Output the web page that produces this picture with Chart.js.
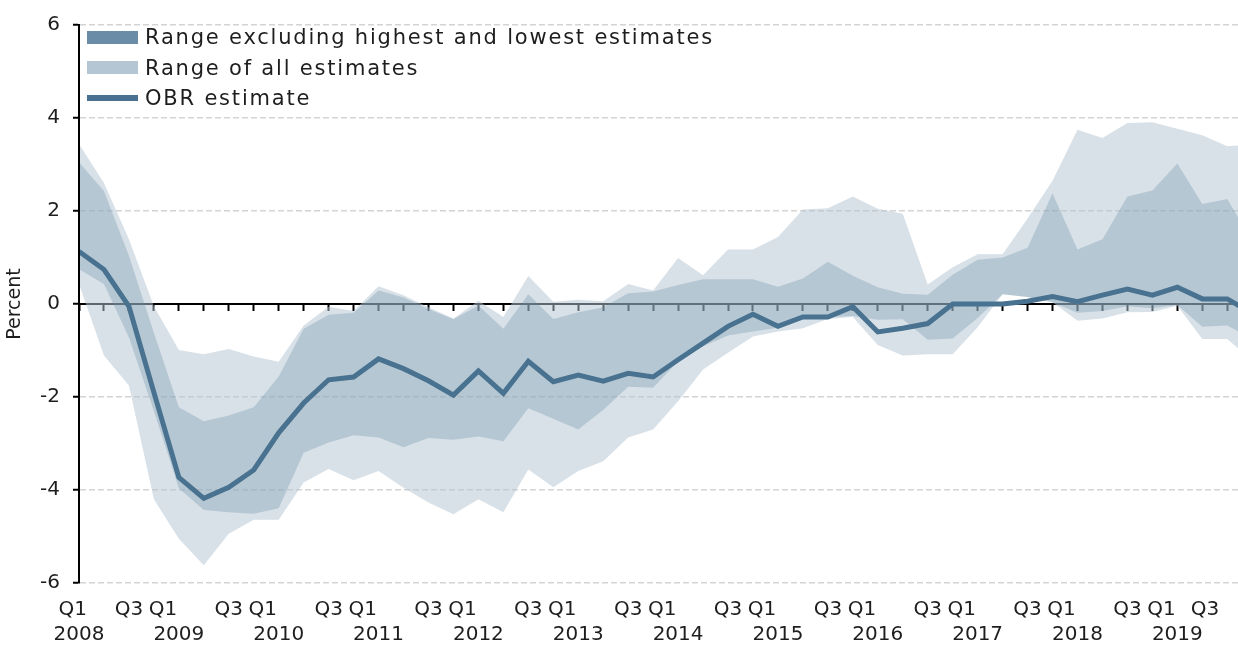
<!DOCTYPE html>
<html>
<head>
<meta charset="utf-8">
<script src="https://cdn.jsdelivr.net/npm/chart.js@4.4.1/dist/chart.umd.min.js"></script>
<style>
  html, body { margin: 0; padding: 0; background: #fff; overflow: hidden; }
  #wrap { position: relative; width: 1238px; height: 646px; }
  #legend { position: absolute; left: 87px; top: 22px; font-family: 'DejaVu Sans', sans-serif;
            font-size: 21px; color: #1e1e1e; letter-spacing: 1.8px; }
  .row { display: flex; align-items: center; height: 30.5px; white-space: nowrap; }
  .sw { width: 51px; height: 13px; margin-right: 7px; flex: none; }
  .ln { width: 51px; height: 6px; margin-right: 7px; flex: none; }
</style>
</head>
<body>
<div id="wrap">
  <canvas id="chart"></canvas>
  <div id="legend">
    <div class="row"><span class="sw" style="background:#6a8ca6"></span>Range excluding highest and lowest estimates</div>
    <div class="row"><span class="sw" style="background:#b4c6d3"></span>Range of all estimates</div>
    <div class="row"><span class="ln" style="background:#48728f"></span>OBR estimate</div>
  </div>
</div>
<script>
// Q1 2008 .. Q4 2019
const years = ['2008', '2009', '2010', '2011', '2012', '2013', '2014', '2015', '2016', '2017', '2018', '2019'];
const quarters = ['Q1', 'Q2', 'Q3', 'Q4'];
const yTicks = [-6, -4, -2, 0, 2, 4, 6];

const obr = [1.13, 0.74, -0.05, -1.9, -3.73, -4.18, -3.94, -3.57, -2.77, -2.13, -1.63, -1.57,
  -1.18, -1.39, -1.65, -1.96, -1.44, -1.92, -1.23, -1.67, -1.53, -1.66, -1.49, -1.57,
  -1.2, -0.84, -0.48, -0.22, -0.48, -0.28, -0.28, -0.06, -0.6, -0.52, -0.42, 0.0,
  0.0, 0.0, 0.06, 0.16, 0.05, 0.19, 0.32, 0.19, 0.36, 0.11, 0.11, -0.2];

const exMax = [3.05, 2.43, 1.04, -0.62, -2.22, -2.52, -2.4, -2.22, -1.56, -0.53, -0.23, -0.19,
  0.29, 0.14, -0.11, -0.33, -0.03, -0.53, 0.21, -0.32, -0.18, -0.07, 0.23, 0.27,
  0.41, 0.53, 0.53, 0.53, 0.37, 0.55, 0.91, 0.61, 0.36, 0.22, 0.2, 0.63,
  0.95, 1.0, 1.21, 2.38, 1.17, 1.39, 2.31, 2.44, 3.02, 2.15, 2.26, 1.35];

const exMin = [0.75, 0.43, -0.72, -2.3, -3.96, -4.43, -4.48, -4.51, -4.39, -3.2, -2.98, -2.82,
  -2.87, -3.08, -2.88, -2.92, -2.85, -2.95, -2.24, -2.47, -2.7, -2.28, -1.78, -1.8,
  -1.23, -0.91, -0.68, -0.59, -0.51, -0.31, -0.28, -0.26, -0.34, -0.33, -0.77, -0.74,
  -0.3, 0.21, 0.15, 0.04, -0.19, -0.15, -0.05, -0.09, -0.02, -0.49, -0.46, -0.75];

const allMax = [3.44, 2.6, 1.39, -0.05, -0.99, -1.08, -0.97, -1.13, -1.24, -0.46, -0.06, -0.15,
  0.38, 0.19, -0.07, -0.31, 0.07, -0.28, 0.6, 0.05, 0.09, 0.06, 0.43, 0.29,
  0.99, 0.62, 1.17, 1.17, 1.44, 2.03, 2.06, 2.31, 2.05, 1.94, 0.42, 0.79,
  1.07, 1.07, 1.84, 2.65, 3.75, 3.57, 3.89, 3.91, 3.77, 3.63, 3.39, 3.43];

const allMin = [0.43, -1.11, -1.75, -4.2, -5.05, -5.62, -4.94, -4.64, -4.64, -3.84, -3.55, -3.79,
  -3.59, -3.95, -4.27, -4.52, -4.2, -4.48, -3.56, -3.94, -3.59, -3.38, -2.87, -2.7,
  -2.09, -1.41, -1.05, -0.7, -0.59, -0.52, -0.32, -0.28, -0.88, -1.11, -1.08, -1.08,
  -0.5, 0.21, 0.15, 0.04, -0.36, -0.31, -0.18, -0.17, -0.04, -0.75, -0.75, -1.22];

const xy = arr => arr.map((v, i) => ({ x: i, y: v }));

// the source picture is cut just after Q3 2019
const xMax = 46.43;

Chart.defaults.font.family = "'DejaVu Sans', sans-serif";
Chart.defaults.color = '#1e1e1e';

new Chart(document.getElementById('chart'), {
    type: 'line',
    data: {
        datasets: [
            { data: xy(obr), borderColor: '#48728f', borderWidth: 5, pointRadius: 0, fill: false, order: 0 },
            { data: xy(exMax), borderWidth: 0, pointRadius: 0, backgroundColor: 'rgba(106,140,166,0.31)', fill: '+1', order: 1 },
            { data: xy(exMin), borderWidth: 0, pointRadius: 0, fill: false, order: 1 },
            { data: xy(allMax), borderWidth: 0, pointRadius: 0, backgroundColor: 'rgba(180,198,211,0.52)', fill: '+1', order: 2 },
            { data: xy(allMin), borderWidth: 0, pointRadius: 0, fill: false, order: 2 }
        ]
    },
    options: {
        responsive: true,
        maintainAspectRatio: false,
        animation: false,
        layout: { autoPadding: false, padding: { top: 21, left: 0, right: 0, bottom: 0 } },
        plugins: { legend: { display: false }, tooltip: { enabled: false } },
        scales: {
            x: {
                type: 'linear', position: 'bottom', min: 0, max: xMax,
                grid: { display: false, drawTicks: false },
                border: { display: false },
                ticks: {
                    stepSize: 1, autoSkip: false, maxRotation: 0, includeBounds: false, maxTicksLimit: 100,
                    padding: 14,
                    font: { size: 20, lineHeight: 1.25 },
                    callback: function (value) {
                        const i = Math.round(value);
                        const q = i % 4;
                        if (q === 0) return [quarters[0] + (i === 0 ? '  ' : '     '), years[i / 4]];
                        if (q === 2) return [quarters[2] + (i === 46 ? '       ' : ''), ''];
                        return '';
                    }
                },
                afterFit: s => { s.height = 63; s.paddingLeft = 0; s.paddingRight = 0; }
            },
            x0: {
                type: 'linear', position: { y: 0 }, min: 0, max: xMax, z: 1,
                grid: { drawOnChartArea: false, tickLength: 6, tickWidth: 2, tickColor: '#000' },
                border: { color: '#000', width: 2 },
                ticks: { display: false, stepSize: 1, includeBounds: false, maxTicksLimit: 100 },
                afterFit: s => { s.paddingLeft = 0; s.paddingRight = 0; }
            },
            y: {
                min: -6, max: 6,
                afterBuildTicks: s => { s.ticks = yTicks.map(v => ({ value: v })); },
                grid: { color: '#d4d4d4', lineWidth: 1.5, tickLength: 6, tickColor: '#000', tickWidth: 2, tickBorderDash: [] },
                border: { color: '#000', width: 2, dash: [6, 3], z: 1 },
                ticks: { padding: 13, font: { size: 20 } },
                title: { display: true, text: 'Percent', font: { size: 19 }, padding: { top: 4, bottom: 0 } },
                afterFit: s => { s.width = 79; }
            }
        }
    }
});
</script>
</body>
</html>
